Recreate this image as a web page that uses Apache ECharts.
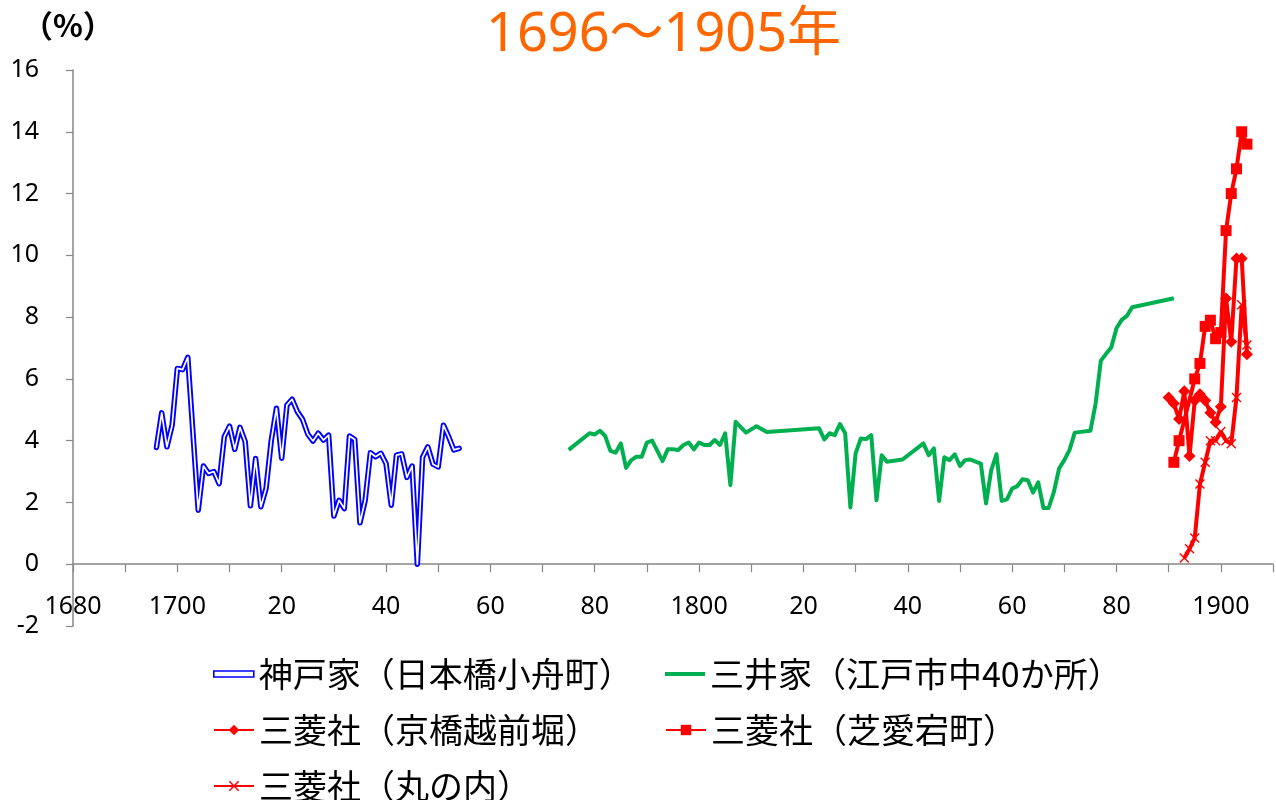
<!DOCTYPE html>
<html><head><meta charset="utf-8">
<script src="https://cdn.jsdelivr.net/npm/echarts@6/dist/echarts.min.js"></script>
<style>html,body{margin:0;padding:0;background:#fff}#c{width:1276px;height:800px}</style>
</head><body><div id="c"></div>
<script>
const titleText = '1696～1905年';
const unitLabel = '（%）';
const seriesNames = ['神戸家（日本橋小舟町）','三井家（江戸市中40か所）','三菱社（京橋越前堀）','三菱社（芝愛宕町）','三菱社（丸の内）'];

const kobeYears = [1696,1697,1698,1699,1700,1701,1702,1704,1705,1706,1707,1708,1709,1710,1711,1712,1713,1714,1715,1716,1717,1718,1719,1720,1721,1722,1723,1724,1725,1726,1727,1728,1729,1730,1731,1732,1733,1734,1735,1736,1737,1738,1739,1740,1741,1742,1743,1744,1745,1746,1747,1748,1749,1750,1751,1752,1753,1754];
const kobeValues = [3.78,4.9,3.8,4.5,6.34,6.3,6.7,1.75,3.18,2.94,3.0,2.61,4.13,4.47,3.72,4.43,3.97,1.89,3.42,1.86,2.45,4.0,5.05,3.43,5.15,5.34,4.94,4.69,4.21,3.99,4.24,4.02,4.18,1.56,2.07,1.8,4.15,4.04,1.34,2.07,3.61,3.48,3.59,3.26,1.91,3.53,3.57,2.81,3.18,0,3.46,3.8,3.24,3.15,4.5,4.13,3.7,3.75];

const mitsuiYears = [1775,1779,1780,1781,1782,1783,1784,1785,1786,1787,1788,1789,1790,1791,1793,1794,1795,1796,1797,1798,1799,1800,1801,1802,1803,1804,1805,1806,1807,1809,1811,1813,1823,1824,1825,1826,1827,1828,1829,1830,1831,1832,1833,1834,1835,1836,1839,1843,1844,1845,1846,1847,1848,1849,1850,1851,1852,1853,1854,1855,1856,1857,1858,1859,1860,1861,1862,1863,1864,1865,1866,1867,1868,1869,1870,1871,1872,1875,1876,1877,1878,1879,1880,1881,1882,1883,1891];
const mitsuiValues = [3.70,4.24,4.2,4.32,4.15,3.67,3.61,3.91,3.12,3.37,3.48,3.48,3.94,4.0,3.34,3.72,3.72,3.7,3.86,3.94,3.72,3.94,3.86,3.86,4.02,3.86,4.24,2.56,4.61,4.26,4.47,4.28,4.40,4.04,4.24,4.18,4.54,4.24,1.84,3.59,4.07,4.05,4.18,2.07,3.53,3.32,3.39,3.91,3.53,3.75,2.05,3.46,3.37,3.56,3.18,3.37,3.39,3.32,3.26,1.97,3.05,3.56,2.05,2.1,2.45,2.53,2.75,2.72,2.32,2.65,1.82,1.82,2.34,3.1,3.37,3.7,4.26,4.32,5.2,6.59,6.81,7.02,7.64,7.91,8.04,8.32,8.61];

const echizenYears = [1890,1891,1892,1893,1894,1895,1896,1897,1898,1899,1900,1901,1902,1903,1904,1905];
const echizenValues = [5.4,5.2,4.7,5.6,3.5,5.3,5.5,5.3,4.9,4.6,5.1,8.6,7.2,9.9,9.9,6.8];

const atagoYears = [1891,1892,1895,1896,1897,1898,1899,1900,1901,1902,1903,1904,1905];
const atagoValues = [3.3,4.0,6.0,6.5,7.7,7.9,7.3,7.5,10.8,12.0,12.8,14.0,13.6];

const marunouchiYears = [1893,1894,1895,1896,1897,1898,1899,1900,1901,1902,1903,1904,1905];
const marunouchiValues = [0.2,0.5,0.85,2.6,3.3,4.0,4.0,4.3,4.0,3.9,5.4,8.4,7.1];

const yTicks = {min:-2, max:16, step:2};
const xTicks = {min:1680, max:1910, step:10};

const pair = (xs, ys) => xs.map((x, i) => [x, ys[i]]);
const crossPath = 'path://M1,0L5,4L9,0L10,1L6,5L10,9L9,10L5,6L1,10L0,9L4,5L0,1Z';
const RED = '#FF0000';
const numFont = 'Noto Sans';
const jpFont = 'Noto Sans CJK JP';

const legendText = {color:'#000', fontSize:34, fontFamily:jpFont};
function oneLegend(name, left, top, extra) {
  return Object.assign({
    data:[name], left:left, top:top, itemWidth:40, itemHeight:13, itemGap:0,
    textStyle:legendText, padding:0, selectedMode:false
  }, extra || {});
}

const chart = echarts.init(document.getElementById('c'));
chart.setOption({
  animation:false,
  backgroundColor:'#fff',
  title:{text:titleText, left:481, top:4,
    textStyle:{color:'#FF6600', fontSize:54, fontWeight:'normal', fontFamily:numFont + ',' + jpFont}},
  graphic:[{type:'text', left:22, top:10,
    style:{text:unitLabel, fontSize:31, fill:'#000', fontFamily:jpFont, fontWeight:'bold'}}],
  grid:{left:73, right:1, top:70, bottom:174},
  xAxis:{type:'value', min:xTicks.min, max:xTicks.max, interval:xTicks.step,
    axisLine:{onZero:true, lineStyle:{color:'#868686', width:1.5}},
    axisTick:{show:true, length:8, lineStyle:{color:'#868686', width:1.2}},
    splitLine:{show:false},
    axisLabel:{margin:-32, color:'#000', fontSize:25, fontFamily:numFont,
      formatter:v => (v === 1680 || v % 100 === 0) ? String(v) : (v % 20 === 0 ? String(v % 100) : '')}},
  yAxis:{type:'value', min:yTicks.min, max:yTicks.max, interval:yTicks.step,
    axisLine:{show:true, lineStyle:{color:'#868686', width:1.5}},
    axisTick:{show:true, length:7, lineStyle:{color:'#868686', width:1.2}},
    splitLine:{show:false},
    axisLabel:{margin:34, color:'#000', fontSize:25, fontFamily:numFont}},
  legend:[
    oneLegend(seriesNames[0], 213, 657, {itemHeight:6,
      data:[{name:seriesNames[0], icon:'rect', itemStyle:{color:'#fff', borderColor:'#0000FF', borderWidth:1.6}}]}),
    oneLegend(seriesNames[1], 665, 657, {itemHeight:4,
      data:[{name:seriesNames[1], icon:'rect', itemStyle:{color:'#00B050', borderWidth:0}}]}),
    oneLegend(seriesNames[2], 213, 713),
    oneLegend(seriesNames[3], 665, 713),
    oneLegend(seriesNames[4], 213, 769)
  ],
  series:[
    {name:seriesNames[0], type:'line', data:pair(kobeYears, kobeValues), symbol:'none',
      lineStyle:{color:'#0000FF', width:5.5, cap:'round', join:'round'}, itemStyle:{color:'#0000FF'}, z:2},
    {name:'kobe-inner', type:'line', data:pair(kobeYears, kobeValues), symbol:'none',
      lineStyle:{color:'#FFFFFF', width:1.7, cap:'round', join:'round'}, z:3, silent:true},
    {name:seriesNames[1], type:'line', data:pair(mitsuiYears, mitsuiValues), symbol:'none',
      lineStyle:{color:'#00B050', width:4, join:'round'}, itemStyle:{color:'#00B050'}, z:2},
    {name:seriesNames[2], type:'line', data:pair(echizenYears, echizenValues), symbol:'diamond', symbolSize:12, showAllSymbol:true,
      lineStyle:{color:RED, width:4}, itemStyle:{color:RED}, z:4},
    {name:seriesNames[3], type:'line', data:pair(atagoYears, atagoValues), symbol:'rect', symbolSize:11, showAllSymbol:true,
      lineStyle:{color:RED, width:4}, itemStyle:{color:RED}, z:4},
    {name:seriesNames[4], type:'line', data:pair(marunouchiYears, marunouchiValues), symbol:crossPath, symbolSize:10, showAllSymbol:true,
      lineStyle:{color:RED, width:4}, itemStyle:{color:RED}, z:4}
  ]
});
</script></body></html>
